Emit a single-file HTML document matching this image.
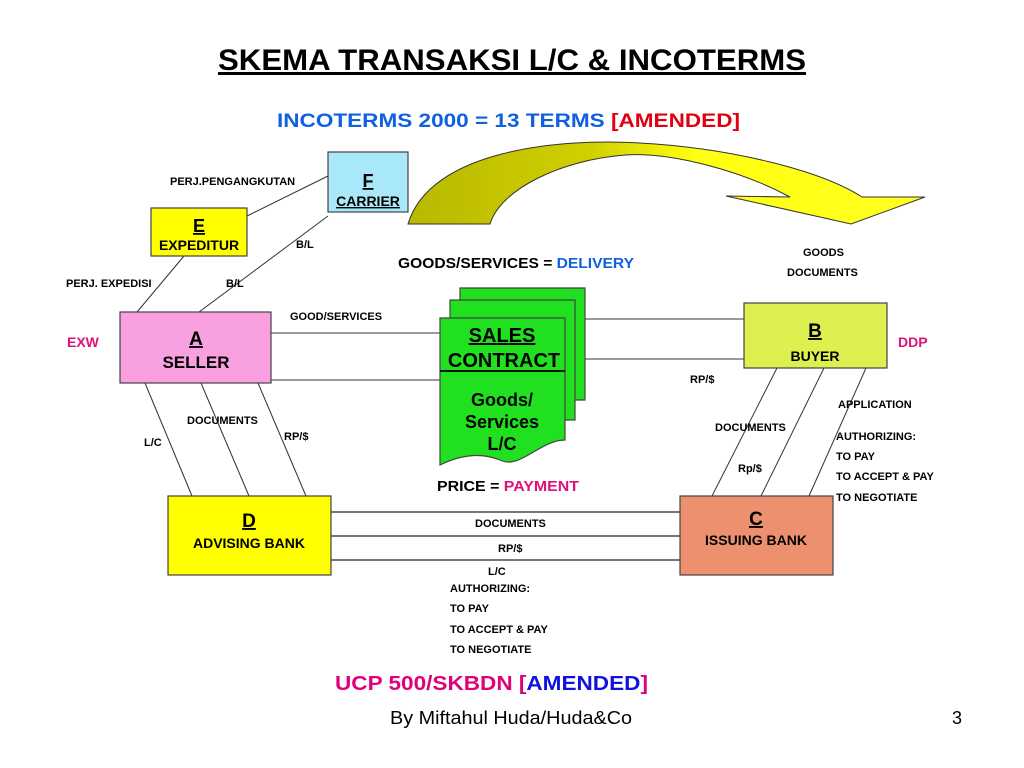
<!DOCTYPE html>
<html><head><meta charset="utf-8"><style>
html,body{margin:0;padding:0;background:#fff;}
svg{display:block;font-family:"Liberation Sans",Arial,sans-serif;}
.s{font-size:11px;font-weight:bold;}
</style></head><body>
<svg width="1024" height="768" viewBox="0 0 1024 768">
<defs>
<linearGradient id="g" x1="408" y1="0" x2="930" y2="0" gradientUnits="userSpaceOnUse">
<stop offset="0" stop-color="#b8b800"/><stop offset="0.35" stop-color="#d0d000"/><stop offset="0.55" stop-color="#ffff10"/><stop offset="1" stop-color="#ffff20"/>
</linearGradient>
</defs>
<text x="218" y="70" textLength="588" lengthAdjust="spacingAndGlyphs" font-size="30" font-weight="bold" text-decoration="underline">SKEMA TRANSAKSI L/C &amp; INCOTERMS</text>
<text x="277" y="127" textLength="463" lengthAdjust="spacingAndGlyphs" font-size="19" font-weight="bold" fill="#1060e0">INCOTERMS 2000 = 13 TERMS <tspan fill="#e00010">[AMENDED]</tspan></text>

<path d="M408,224 C430,150 560,138 640,143 C730,148 820,170 862,197 L925,197 L851,224 L726,196 L790,197 C740,170 670,152 625,155 C560,160 500,190 490,224 Z" fill="url(#g)" stroke="#333" stroke-width="1"/>

<g stroke="#333" stroke-width="1" fill="none">
<line x1="247" y1="216" x2="328" y2="176"/>
<line x1="328" y1="216" x2="199" y2="312"/>
<line x1="184" y1="256" x2="137" y2="312"/>
<line x1="271" y1="333" x2="440" y2="333"/>
<line x1="271" y1="380" x2="440" y2="380"/>
<line x1="585" y1="319" x2="744" y2="319"/>
<line x1="565" y1="359" x2="744" y2="359"/>
<line x1="145" y1="383" x2="192" y2="496"/>
<line x1="201" y1="383" x2="249" y2="496"/>
<line x1="258" y1="383" x2="306" y2="496"/>
<line x1="777" y1="368" x2="712" y2="496"/>
<line x1="824" y1="368" x2="761" y2="496"/>
<line x1="866" y1="368" x2="809" y2="496"/>
</g>
<g stroke="#777" stroke-width="2">
<line x1="331" y1="512" x2="680" y2="512"/>
<line x1="331" y1="536" x2="680" y2="536"/>
<line x1="331" y1="560" x2="680" y2="560"/>
</g>

<g stroke="#444" stroke-width="1.2">
<rect x="328" y="152" width="80" height="60" fill="#a8e8f8"/>
<rect x="151" y="208" width="96" height="48" fill="#ffff00"/>
<rect x="120" y="312" width="151" height="71" fill="#f8a0e0"/>
<rect x="744" y="303" width="143" height="65" fill="#ddf050"/>
<rect x="168" y="496" width="163" height="79" fill="#ffff00"/>
<rect x="680" y="496" width="153" height="79" fill="#ec9070"/>
<path d="M460,288 H585 V400 H460 Z" fill="#20e020"/>
<path d="M450,300 H575 V420 H450 Z" fill="#20e020"/>
<path d="M440,318 H565 V440 C540,440 520,470 500,460 C480,452 460,455 440,465 Z" fill="#20e020"/>
</g>
<line x1="440" y1="371" x2="565" y2="371" stroke="#111" stroke-width="2"/>

<g font-weight="bold" text-anchor="middle">
<text x="368" y="187" font-size="18" text-decoration="underline">F</text>
<text x="368" y="206" font-size="14" text-decoration="underline">CARRIER</text>
<text x="199" y="232" font-size="18" text-decoration="underline">E</text>
<text x="199" y="250" font-size="14">EXPEDITUR</text>
<text x="196" y="345" font-size="19" text-decoration="underline">A</text>
<text x="196" y="368" font-size="17">SELLER</text>
<text x="815" y="337" font-size="19" text-decoration="underline">B</text>
<text x="815" y="361" font-size="14">BUYER</text>
<text x="249" y="527" font-size="19" text-decoration="underline">D</text>
<text x="249" y="548" font-size="14">ADVISING BANK</text>
<text x="756" y="525" font-size="19" text-decoration="underline">C</text>
<text x="756" y="545" font-size="14">ISSUING BANK</text>
<text x="502" y="342" font-size="20" text-decoration="underline">SALES</text>
<text x="504" y="367" font-size="20">CONTRACT</text>
<text x="502" y="406" font-size="18">Goods/</text>
<text x="502" y="428" font-size="18">Services</text>
<text x="502" y="450" font-size="18">L/C</text>
</g>

<g class="s">
<text x="170" y="185">PERJ.PENGANGKUTAN</text>
<text x="296" y="248">B/L</text>
<text x="66" y="287">PERJ. EXPEDISI</text>
<text x="226" y="287">B/L</text>
<text x="290" y="320">GOOD/SERVICES</text>
<text x="803" y="256">GOODS</text>
<text x="787" y="276">DOCUMENTS</text>
<text x="690" y="383">RP/$</text>
<text x="838" y="408">APPLICATION</text>
<text x="715" y="431">DOCUMENTS</text>
<text x="836" y="440">AUTHORIZING:</text>
<text x="836" y="460">TO PAY</text>
<text x="836" y="480">TO ACCEPT &amp; PAY</text>
<text x="836" y="501">TO NEGOTIATE</text>
<text x="738" y="472">Rp/$</text>
<text x="187" y="424">DOCUMENTS</text>
<text x="144" y="446">L/C</text>
<text x="284" y="440">RP/$</text>
<text x="475" y="527">DOCUMENTS</text>
<text x="498" y="552">RP/$</text>
<text x="488" y="575">L/C</text>
<text x="450" y="592">AUTHORIZING:</text>
<text x="450" y="612">TO PAY</text>
<text x="450" y="633">TO ACCEPT &amp; PAY</text>
<text x="450" y="653">TO NEGOTIATE</text>
</g>
<text x="398" y="268" textLength="236" lengthAdjust="spacingAndGlyphs" font-size="15" font-weight="bold">GOODS/SERVICES = <tspan fill="#1060e0">DELIVERY</tspan></text>
<text x="437" y="491" textLength="142" lengthAdjust="spacingAndGlyphs" font-size="15" font-weight="bold">PRICE = <tspan fill="#e0107a">PAYMENT</tspan></text>
<text x="67" y="347" font-size="14" font-weight="bold" fill="#e0107a">EXW</text>
<text x="898" y="347" font-size="14" font-weight="bold" fill="#e0107a">DDP</text>
<text x="335" y="690" textLength="313" lengthAdjust="spacingAndGlyphs" font-size="20" font-weight="bold" fill="#e0007a">UCP 500/SKBDN [<tspan fill="#1010e0">AMENDED</tspan>]</text>
<text x="390" y="724" textLength="242" lengthAdjust="spacingAndGlyphs" font-size="18">By Miftahul Huda/Huda&amp;Co</text>
<text x="957" y="724" text-anchor="middle" font-size="18">3</text>
</svg>
</body></html>
